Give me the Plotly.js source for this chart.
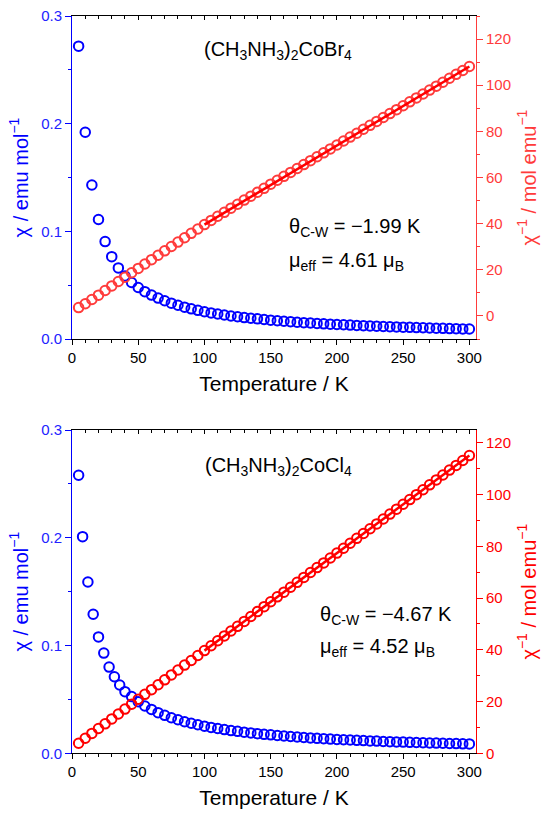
<!DOCTYPE html>
<html>
<head>
<meta charset="utf-8">
<script src="https://cdn.plot.ly/plotly-3.0.1.min.js"></script>
<style>html,body{margin:0;padding:0;background:#fff;} #chart{width:550px;height:819px;}</style>
</head>
<body>
<div id="chart"></div>
<script>
// ---- data ----
const tempTop = [5,10,15,20,25,30,35,40,45,50,55,60,65,70,75,80,85,90,95,100,105,110,115,120,125,130,135,140,145,150,155,160,165,170,175,180,185,190,195,200,205,210,215,220,225,230,235,240,245,250,255,260,265,270,275,280,285,290,295,300];
const chiTop = [0.272,0.192,0.143,0.111,0.0905,0.0765,0.066,0.0585,0.0525,0.0478,0.0440,0.0408,0.0380,0.0355,0.0333,0.0313,0.0296,0.0280,0.0266,0.0253,0.0242,0.0232,0.0223,0.0214,0.0207,0.0199,0.0193,0.0187,0.0181,0.0175,0.0170,0.0165,0.0161,0.0156,0.0152,0.0149,0.0145,0.0141,0.0138,0.0135,0.0132,0.0129,0.0126,0.0124,0.0121,0.0119,0.0116,0.0114,0.0112,0.0110,0.0108,0.0106,0.0104,0.0102,0.0100,0.0099,0.0097,0.0096,0.0094,0.0093];
const invChiTop = [3.6,5.3,7.1,9.0,11.0,13.0,14.9,16.8,18.7,20.6,22.5,24.4,26.3,28.2,30.1,32.0,33.9,35.8,37.7,39.6,41.4,43.2,44.9,46.7,48.4,50.2,51.9,53.6,55.3,57.1,58.8,60.5,62.2,63.9,65.6,67.3,69.0,70.7,72.4,74.1,75.8,77.5,79.2,80.9,82.6,84.3,86.0,87.7,89.4,91.1,92.8,94.5,96.2,97.9,99.6,101.3,103.0,104.7,106.4,108.1];

const tempBotChi = [5,8,12,16,20,24,28,32,36,40,45,50,55,60,65,70,75,80,85,90,95,100,105,110,115,120,125,130,135,140,145,150,155,160,165,170,175,180,185,190,195,200,205,210,215,220,225,230,235,240,245,250,255,260,265,270,275,280,285,290,295,300];
const chiBot = [0.258,0.201,0.159,0.129,0.108,0.093,0.080,0.071,0.0634,0.0572,0.0526,0.0479,0.0439,0.0407,0.0377,0.0352,0.0330,0.0311,0.0293,0.0279,0.0265,0.0252,0.0240,0.0230,0.0220,0.0211,0.0204,0.0196,0.0189,0.0182,0.0176,0.0171,0.0165,0.0161,0.0156,0.0151,0.0147,0.0143,0.0139,0.0136,0.0132,0.0129,0.0126,0.0123,0.0120,0.0118,0.0115,0.0113,0.0110,0.0108,0.0106,0.0104,0.0102,0.0100,0.0098,0.0096,0.0095,0.0093,0.0091,0.0090,0.0088,0.0087];
const tempBotInv = [5,10,15,20,25,30,35,40,45,50,55,60,65,70,75,80,85,90,95,100,105,110,115,120,125,130,135,140,145,150,155,160,165,170,175,180,185,190,195,200,205,210,215,220,225,230,235,240,245,250,255,260,265,270,275,280,285,290,295,300];
const invChiBot = [3.9,5.8,7.7,9.6,11.4,13.3,15.2,17.1,19.0,20.9,22.8,24.6,26.5,28.4,30.3,32.2,34.1,35.9,37.8,39.7,41.6,43.5,45.4,47.3,49.1,51.0,52.9,54.8,56.7,58.6,60.5,62.3,64.2,66.1,68.0,69.9,71.8,73.6,75.5,77.4,79.3,81.2,83.1,85.0,86.8,88.7,90.6,92.5,94.4,96.3,98.1,100.0,101.9,103.8,105.7,107.6,109.5,111.3,113.2,115.1];

const fitT = [100, 300];
const fitTop = [39.6, 108.1];
const fitBot = [39.7, 115.1];

const xTickVals = [0,50,100,150,200,250,300];
const chiTickVals = [0.0,0.1,0.2,0.3];
const chiTickText = ['0.0','0.1','0.2','0.3'];
const invTickVals = [0,20,40,60,80,100,120];

// ---- styling ----
const FONT = 'Liberation Sans, Arial, Helvetica, sans-serif';
const BLUE = '#0000ff';
const BLUE_T = '#2222ff';
const RED = '#ff0000';
const RED_LIGHT = '#ff3b3b';
const XDOM = [72/550, 476/550];
const DOM_TOP = [1-339/819, 1-16/819];
const DOM_BOT = [1-753.3/819, 1-430/819];
const XRANGE = [0, 305];

function circ(color){
  return {symbol:'circle-open', size:9.5, color:color, line:{color:color, width:2}};
}

const traces = [
  {x:tempTop, y:chiTop, xaxis:'x', yaxis:'y', mode:'markers', marker:circ(BLUE), hoverinfo:'skip'},
  {x:tempTop, y:invChiTop, xaxis:'x', yaxis:'y2', mode:'markers', marker:circ(RED_LIGHT), hoverinfo:'skip'},
  {x:fitT, y:fitTop, xaxis:'x', yaxis:'y2', mode:'lines', line:{color:RED, width:2.5}, hoverinfo:'skip'},
  {x:[], y:[], xaxis:'x2', yaxis:'y', mode:'markers', hoverinfo:'skip'},
  {x:tempBotChi, y:chiBot, xaxis:'x3', yaxis:'y3', mode:'markers', marker:circ(BLUE), hoverinfo:'skip'},
  {x:tempBotInv, y:invChiBot, xaxis:'x3', yaxis:'y4', mode:'markers', marker:circ(RED), hoverinfo:'skip'},
  {x:fitT, y:fitBot, xaxis:'x3', yaxis:'y4', mode:'lines', line:{color:RED, width:2.5}, hoverinfo:'skip'},
  {x:[], y:[], xaxis:'x4', yaxis:'y3', mode:'markers', hoverinfo:'skip'}
];

function xBottom(anchor){
  return {
    domain:XDOM, range:XRANGE, anchor:anchor, side:'bottom',
    showline:true, linecolor:'#000', linewidth:1, zeroline:false, showgrid:false,
    ticks:'outside', ticklen:5, tickwidth:1, tickcolor:'#000',
    tickmode:'array', tickvals:xTickVals,
    minor:{dtick:10, tick0:0, ticks:'outside', ticklen:3, tickcolor:'#000', showgrid:false},
    tickfont:{family:FONT, size:15, color:'#000'},
    title:{text:'Temperature / K', font:{family:FONT, size:21, color:'#000'}, standoff:11}
  };
}
function xTop(anchor, over){
  return {
    domain:XDOM, range:XRANGE, anchor:anchor, overlaying:over, side:'top',
    showline:true, linecolor:'#000', linewidth:1, zeroline:false, showgrid:false,
    ticks:'inside', ticklen:4, tickwidth:1, tickcolor:'#000',
    tickmode:'array', tickvals:xTickVals, showticklabels:false,
    minor:{dtick:10, tick0:0, ticks:'inside', ticklen:2.5, tickcolor:'#000', showgrid:false}
  };
}
function yLeft(dom, anchor){
  return {
    domain:dom, range:[0,0.3], anchor:anchor, side:'left',
    showline:true, linecolor:BLUE, linewidth:1, zeroline:false, showgrid:false,
    ticks:'outside', ticklen:6, tickwidth:1, tickcolor:BLUE,
    tickmode:'array', tickvals:chiTickVals, ticktext:chiTickText,
    minor:{dtick:0.05, tick0:0, ticks:'outside', ticklen:3, tickcolor:BLUE, showgrid:false},
    tickfont:{family:FONT, size:15, color:BLUE_T},
    title:{text:'χ / emu mol<sup>−1</sup>', font:{family:FONT, size:20, color:BLUE}, standoff:7}
  };
}
function yRight(dom, anchor, over, range, color){
  return {
    domain:dom, range:range, anchor:anchor, overlaying:over, side:'right',
    showline:true, linecolor:color, linewidth:1, zeroline:false, showgrid:false,
    ticks:'outside', ticklen:6, tickwidth:1, tickcolor:color,
    tickmode:'array', tickvals:invTickVals,
    minor:{dtick:10, tick0:0, ticks:'outside', ticklen:3, tickcolor:color, showgrid:false},
    tickfont:{family:FONT, size:15, color:color},
    title:{text:'χ<sup>−1</sup> / mol emu<sup>−1</sup>', font:{family:FONT, size:20, color:color}, standoff:11}
  };
}

const annFont = {family:FONT, size:20, color:'#000'};
const layout = {
  width:550, height:819,
  margin:{l:0, r:0, t:0, b:0},
  paper_bgcolor:'#fff', plot_bgcolor:'rgba(0,0,0,0)',
  showlegend:false,
  xaxis:xBottom('y'),
  xaxis2:xTop('y','x'),
  xaxis3:xBottom('y3'),
  xaxis4:xTop('y3','x3'),
  yaxis:yLeft(DOM_TOP,'x'),
  yaxis2:yRight(DOM_TOP,'x','y',[-10,130],RED_LIGHT),
  yaxis3:yLeft(DOM_BOT,'x3'),
  yaxis4:yRight(DOM_BOT,'x3','y3',[0,125],RED),
  annotations:[
    {xref:'x', yref:'y', x:155.7, y:0.268, text:'(CH<sub>3</sub>NH<sub>3</sub>)<sub>2</sub>CoBr<sub>4</sub>', showarrow:false, xanchor:'center', yanchor:'middle', font:annFont},
    {xref:'x', yref:'y', x:162, y:0.104, text:'θ<sub>C-W</sub> = −1.99 K', showarrow:false, xanchor:'left', yanchor:'middle', font:annFont},
    {xref:'x', yref:'y', x:162, y:0.072, text:'μ<sub>eff</sub> = 4.61 μ<sub>B</sub>', showarrow:false, xanchor:'left', yanchor:'middle', font:annFont},
    {xref:'x3', yref:'y3', x:155.7, y:0.266, text:'(CH<sub>3</sub>NH<sub>3</sub>)<sub>2</sub>CoCl<sub>4</sub>', showarrow:false, xanchor:'center', yanchor:'middle', font:annFont},
    {xref:'x3', yref:'y3', x:186, y:0.128, text:'θ<sub>C-W</sub> = −4.67 K', showarrow:false, xanchor:'left', yanchor:'middle', font:annFont},
    {xref:'x3', yref:'y3', x:186, y:0.098, text:'μ<sub>eff</sub> = 4.52 μ<sub>B</sub>', showarrow:false, xanchor:'left', yanchor:'middle', font:annFont}
  ]
};

Plotly.newPlot('chart', traces, layout, {staticPlot:true, displayModeBar:false});
</script>
</body>
</html>
